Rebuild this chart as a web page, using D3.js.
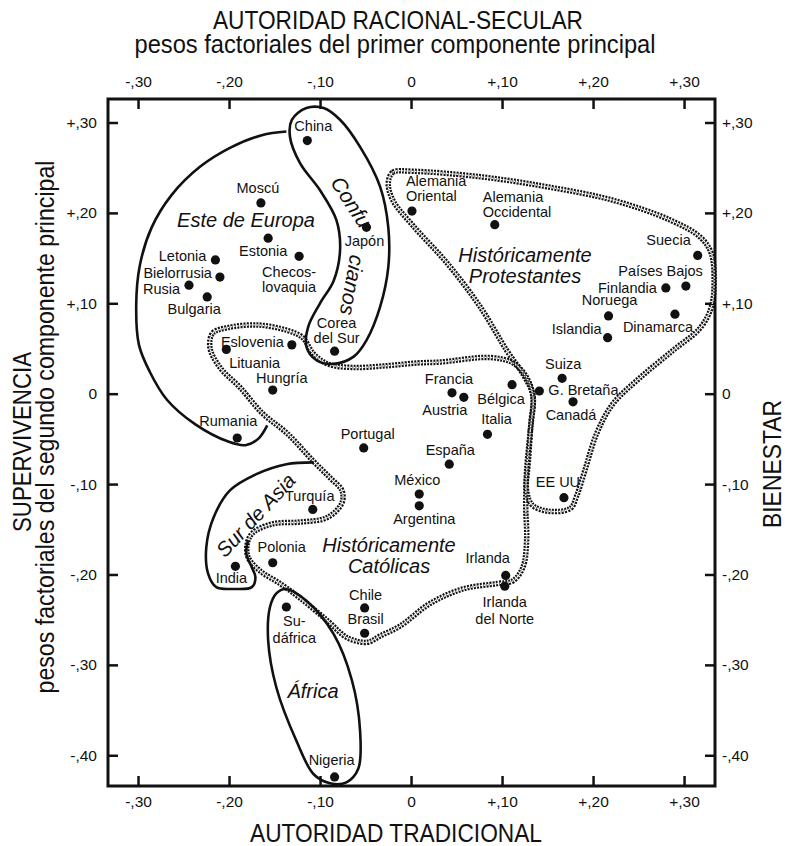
<!DOCTYPE html>
<html>
<head>
<meta charset="utf-8">
<script src="https://cdn.jsdelivr.net/npm/d3@7"></script>
<style>
    body { margin: 0; background: #fff; }
    svg { display: block; font-family: "Liberation Sans", Arial, sans-serif; }
    .lbl { font-size: 14.5px; fill: #111; }
    .region { font-size: 20px; font-style: italic; fill: #111; }
    .title { font-size: 25px; fill: #111; }
</style>
</head>
<body>
<svg width="785" height="846"></svg>
<script>
// ---- data ----
const xTicks = [-0.3, -0.2, -0.1, 0, 0.1, 0.2, 0.3];
const yTicks = [0.3, 0.2, 0.1, 0, -0.1, -0.2, -0.3, -0.4];

const countries = ["China", "Moscú", "Estonia", "Checoslovaquia", "Letonia", "Bielorrusia", "Rusia",
    "Bulgaria", "Japón", "Corea del Sur", "Eslovenia", "Lituania", "Hungría", "Rumania", "Portugal",
    "Alemania Oriental", "Alemania Occidental", "Suecia", "Países Bajos", "Finlandia", "Noruega",
    "Dinamarca", "Islandia", "Suiza", "Francia", "Austria", "Bélgica", "G. Bretaña", "Canadá",
    "Italia", "España", "México", "Argentina", "EE UU", "Irlanda", "Irlanda del Norte", "Turquía",
    "India", "Polonia", "Sudáfrica", "Chile", "Brasil", "Nigeria"];
// first principal component (x) and second component (y)
const tradSecular = [-0.114, -0.165, -0.157, -0.123, -0.215, -0.210, -0.244,
    -0.224, -0.049, -0.084, -0.131, -0.203, -0.152, -0.191, -0.052,
    0.001, 0.092, 0.315, 0.302, 0.280, 0.217,
    0.290, 0.216, 0.166, 0.045, 0.058, 0.111, 0.141, 0.178,
    0.084, 0.042, 0.009, 0.009, 0.168, 0.104, 0.103, -0.108,
    -0.193, -0.152, -0.137, -0.051, -0.051, -0.084];
const survivalWellbeing = [0.280, 0.211, 0.172, 0.152, 0.148, 0.129, 0.120,
    0.107, 0.184, 0.047, 0.054, 0.049, 0.004, -0.049, -0.060,
    0.202, 0.187, 0.153, 0.119, 0.117, 0.086,
    0.088, 0.062, 0.017, 0.001, -0.004, 0.010, 0.003, -0.009,
    -0.045, -0.078, -0.111, -0.124, -0.115, -0.201, -0.213, -0.128,
    -0.191, -0.187, -0.236, -0.237, -0.265, -0.424];

// cultural zone outlines, in factor-score units
const esteEuropa = [[-0.137, 0.290], [-0.164, 0.286], [-0.199, 0.272], [-0.232, 0.251], [-0.263, 0.220],
    [-0.285, 0.184], [-0.298, 0.142], [-0.302, 0.098], [-0.299, 0.054], [-0.287, 0.024],
    [-0.268, -0.007], [-0.237, -0.034], [-0.201, -0.053], [-0.182, -0.057], [-0.168, -0.050],
    [-0.158, -0.035]];
const confucianos = [[-0.115, 0.316], [-0.131, 0.303], [-0.133, 0.284], [-0.122, 0.255], [-0.100, 0.225],
    [-0.082, 0.192], [-0.078, 0.159], [-0.085, 0.125], [-0.100, 0.100], [-0.113, 0.074],
    [-0.115, 0.052], [-0.104, 0.037], [-0.085, 0.033], [-0.063, 0.041], [-0.049, 0.059],
    [-0.034, 0.096], [-0.025, 0.140], [-0.025, 0.184], [-0.034, 0.229], [-0.056, 0.273],
    [-0.078, 0.303], [-0.096, 0.316]];
const surAsia = [[-0.107, -0.076], [-0.137, -0.078], [-0.170, -0.089], [-0.199, -0.107], [-0.217, -0.137],
    [-0.225, -0.170], [-0.223, -0.199], [-0.214, -0.214], [-0.195, -0.216], [-0.175, -0.214],
    [-0.171, -0.203], [-0.175, -0.192], [-0.181, -0.177], [-0.179, -0.162]];
const africa = [[-0.138, -0.216], [-0.115, -0.229], [-0.085, -0.266], [-0.065, -0.317], [-0.056, -0.373],
    [-0.058, -0.415], [-0.071, -0.430], [-0.089, -0.431], [-0.107, -0.421], [-0.126, -0.384],
    [-0.148, -0.325], [-0.157, -0.273], [-0.155, -0.236], [-0.148, -0.221]];
const protestantes = [[-0.025, 0.233], [-0.020, 0.245], [0.002, 0.246], [0.076, 0.240], [0.149, 0.229],
    [0.222, 0.214], [0.285, 0.192], [0.318, 0.173], [0.330, 0.155], [0.333, 0.122],
    [0.330, 0.096], [0.318, 0.073], [0.288, 0.048], [0.252, 0.018], [0.222, -0.011],
    [0.204, -0.044], [0.191, -0.085], [0.182, -0.113], [0.175, -0.127], [0.151, -0.130],
    [0.133, -0.123], [0.127, -0.107], [0.129, -0.074], [0.132, -0.030], [0.134, -0.002],
    [0.124, 0.020], [0.105, 0.048], [0.076, 0.096], [0.040, 0.144], [0.002, 0.186],
    [-0.020, 0.214]];
const catolicas = [[0.134, -0.004], [0.131, -0.041], [0.127, -0.085], [0.126, -0.124], [0.127, -0.162],
    [0.123, -0.192], [0.112, -0.207], [0.095, -0.210], [0.057, -0.216], [0.021, -0.232],
    [-0.012, -0.257], [-0.034, -0.268], [-0.048, -0.275], [-0.070, -0.270], [-0.092, -0.251],
    [-0.122, -0.226], [-0.144, -0.210], [-0.166, -0.196], [-0.179, -0.181], [-0.180, -0.166],
    [-0.174, -0.154], [-0.152, -0.144], [-0.122, -0.142], [-0.092, -0.137], [-0.076, -0.121],
    [-0.076, -0.107], [-0.089, -0.093], [-0.108, -0.074], [-0.136, -0.044], [-0.163, -0.022],
    [-0.188, 0.007], [-0.210, 0.029], [-0.221, 0.051], [-0.218, 0.067], [-0.202, 0.073],
    [-0.169, 0.076], [-0.136, 0.070], [-0.119, 0.062], [-0.108, 0.045], [-0.092, 0.033],
    [-0.064, 0.029], [-0.026, 0.031], [0.007, 0.034], [0.032, 0.035], [0.087, 0.040],
    [0.112, 0.034], [0.127, 0.018]];

// label placement: lines, anchor, dx, dy of first baseline, line step
const labelPos = {
    "China": [["China"], "middle", 6, -10],
    "Moscú": [["Moscú"], "middle", -3, -10],
    "Estonia": [["Estonia"], "middle", -5, 18],
    "Checoslovaquia": [["Checos-", "lovaquia"], "start", -37, 21, 15],
    "Letonia": [["Letonia"], "end", -9, 1],
    "Bielorrusia": [["Bielorrusia"], "end", -8, 1],
    "Rusia": [["Rusia"], "end", -9, 9],
    "Bulgaria": [["Bulgaria"], "middle", -13, 17],
    "Japón": [["Japón"], "middle", -2, 19],
    "Corea del Sur": [["Corea", "del Sur"], "middle", 2, -23, 15],
    "Eslovenia": [["Eslovenia"], "end", -8, 2],
    "Lituania": [["Lituania"], "start", 3, 19],
    "Hungría": [["Hungría"], "middle", 9, -7],
    "Rumania": [["Rumania"], "middle", -9, -12],
    "Portugal": [["Portugal"], "middle", 4, -9],
    "Alemania Oriental": [["Alemania", "Oriental"], "start", -6, -25, 15],
    "Alemania Occidental": [["Alemania", "Occidental"], "start", -12, -23, 15],
    "Suecia": [["Suecia"], "end", -7, -10],
    "Países Bajos": [["Países Bajos"], "end", 17, -10],
    "Finlandia": [["Finlandia"], "end", -9, 5],
    "Noruega": [["Noruega"], "middle", 1, -11],
    "Dinamarca": [["Dinamarca"], "middle", -17, 18],
    "Islandia": [["Islandia"], "end", -6, -4],
    "Suiza": [["Suiza"], "middle", 1, -9],
    "Francia": [["Francia"], "middle", -3, -9],
    "Austria": [["Austria"], "middle", -19, 18],
    "Bélgica": [["Bélgica"], "middle", -11, 19],
    "G. Bretaña": [["G. Bretaña"], "start", 9, 4],
    "Canadá": [["Canadá"], "middle", -2, 18],
    "Italia": [["Italia"], "middle", 9, -10],
    "España": [["España"], "middle", 1, -9],
    "México": [["México"], "middle", -2, -9],
    "Argentina": [["Argentina"], "middle", 5, 18],
    "EE UU": [["EE UU"], "middle", -6, -11],
    "Irlanda": [["Irlanda"], "middle", -18, -12],
    "Irlanda del Norte": [["Irlanda", "del Norte"], "middle", 0, 21, 16.5],
    "Turquía": [["Turquía"], "middle", -3, -8],
    "India": [["India"], "middle", -4, 17],
    "Polonia": [["Polonia"], "middle", 9, -11],
    "Sudáfrica": [["Su-", "dáfrica"], "middle", 8, 19, 16.5],
    "Chile": [["Chile"], "middle", 1, -8],
    "Brasil": [["Brasil"], "middle", 1, -9],
    "Nigeria": [["Nigeria"], "middle", -3, -12]
};

const svg = d3.select("svg");
const x = d3.scaleLinear().domain([-0.333, 0.334]).range([108, 715]);
const y = d3.scaleLinear().domain([-0.434, 0.326]).range([786, 99]);

function fmt(d) {
    if (d === 0) return "0";
    return (d > 0 ? "+" : "-") + "," + d3.format("02d")(Math.round(Math.abs(d) * 100));
}

// axes, ticks pointing inward
function styleAxis(g) {
    g.attr("font-size", 15.5).attr("font-family", null);
    g.select(".domain").remove();
    g.selectAll(".tick line").attr("stroke", "#111").attr("stroke-width", 2.5);
    g.selectAll(".tick text").attr("fill", "#111");
}
svg.append("g").attr("transform", "translate(0,99)")
    .call(d3.axisTop(x).tickValues(xTicks).tickFormat(fmt).tickSizeInner(-10).tickSizeOuter(0).tickPadding(12))
    .call(styleAxis);
svg.append("g").attr("transform", "translate(0,786)")
    .call(d3.axisBottom(x).tickValues(xTicks).tickFormat(fmt).tickSizeInner(-10).tickSizeOuter(0).tickPadding(10))
    .call(styleAxis);
svg.append("g").attr("transform", "translate(108,0)")
    .call(d3.axisLeft(y).tickValues(yTicks).tickFormat(fmt).tickSizeInner(-10).tickSizeOuter(0).tickPadding(11))
    .call(styleAxis);
svg.append("g").attr("transform", "translate(715,0)")
    .call(d3.axisRight(y).tickValues(yTicks).tickFormat(fmt).tickSizeInner(-10).tickSizeOuter(0).tickPadding(7))
    .call(styleAxis);

svg.append("rect")
    .attr("x", x.range()[0]).attr("y", y.range()[1])
    .attr("width", x.range()[1] - x.range()[0])
    .attr("height", y.range()[0] - y.range()[1])
    .attr("fill", "none").attr("stroke", "#111").attr("stroke-width", 3);

// axis titles (condensed to the printed widths)
function title(txt, tx, ty, rot, len) {
    svg.append("text").attr("class", "title")
        .attr("transform", "translate(" + tx + "," + ty + ") rotate(" + rot + ")")
        .attr("text-anchor", "middle")
        .attr("textLength", len)
        .attr("lengthAdjust", "spacingAndGlyphs")
        .text(txt);
}
title("AUTORIDAD RACIONAL-SECULAR", 398, 29, 0, 370);
title("pesos factoriales del primer componente principal", 395, 53, 0, 521);
title("AUTORIDAD TRADICIONAL", 396, 842, 0, 292);
title("SUPERVIVENCIA", 31, 442, -90, 180);
title("pesos factoriales del segundo componente principal", 54, 427, -90, 533);
title("BIENESTAR", 781, 464, -90, 128);

// zone outlines
const closedLine = d3.line().x(d => x(d[0])).y(d => y(d[1])).curve(d3.curveCatmullRomClosed.alpha(0.5));
const openLine = d3.line().x(d => x(d[0])).y(d => y(d[1])).curve(d3.curveCatmullRom.alpha(0.5));

const zones = svg.append("g").attr("fill", "none");
[protestantes, catolicas].forEach(function (pts) {
    zones.append("path").attr("d", closedLine(pts))
        .attr("stroke", "#111").attr("stroke-width", 5.5).attr("stroke-dasharray", "2 1.2");
    zones.append("path").attr("d", closedLine(pts))
        .attr("stroke", "#fff").attr("stroke-width", 1.3).attr("stroke-dasharray", "1.6 1.6");
});
zones.append("path").attr("d", closedLine(confucianos)).attr("stroke", "#111").attr("stroke-width", 2.6);
zones.append("path").attr("d", closedLine(africa)).attr("stroke", "#111").attr("stroke-width", 2.6);
zones.append("path").attr("d", openLine(esteEuropa)).attr("stroke", "#111").attr("stroke-width", 2.6);
zones.append("path").attr("d", openLine(surAsia)).attr("stroke", "#111").attr("stroke-width", 2.6);

// zone names
function zoneText(txt, tx, ty, rot, size) {
    svg.append("text").attr("class", "region")
        .attr("transform", "translate(" + tx + "," + ty + ") rotate(" + rot + ")")
        .attr("text-anchor", "middle")
        .style("font-size", size + "px")
        .text(txt);
}
zoneText("Este de Europa", 246, 227, 0, 20);
zoneText("Históricamente", 525, 262, 0, 20);
zoneText("Protestantes", 525, 283, 0, 20);
zoneText("Históricamente", 389, 552, 0, 20);
zoneText("Católicas", 389, 573, 0, 20);
zoneText("África", 313, 698, 0, 20);
zoneText("Confu", 345, 206, 57, 21);
zoneText("cianos", 345, 284, 100, 21);
zoneText("Sur de Asia", 261, 520, -47, 20.5);

// countries
const pts = countries.map((c, i) => ({ name: c, x: tradSecular[i], y: survivalWellbeing[i] }));

svg.append("g").selectAll("circle")
    .data(pts)
    .enter().append("circle")
    .attr("cx", d => x(d.x))
    .attr("cy", d => y(d.y))
    .attr("r", 4.6)
    .attr("fill", "#111");

const labels = svg.append("g").selectAll("text")
    .data(pts)
    .enter().append("text")
    .attr("class", "lbl")
    .attr("text-anchor", d => labelPos[d.name][1]);

labels.each(function (d) {
    const p = labelPos[d.name];
    const t = d3.select(this);
    p[0].forEach(function (line, k) {
        t.append("tspan")
            .attr("x", x(d.x) + p[2])
            .attr("y", y(d.y) + p[3] + k * (p[4] || 14))
            .text(line);
    });
});
</script>
</body>
</html>
